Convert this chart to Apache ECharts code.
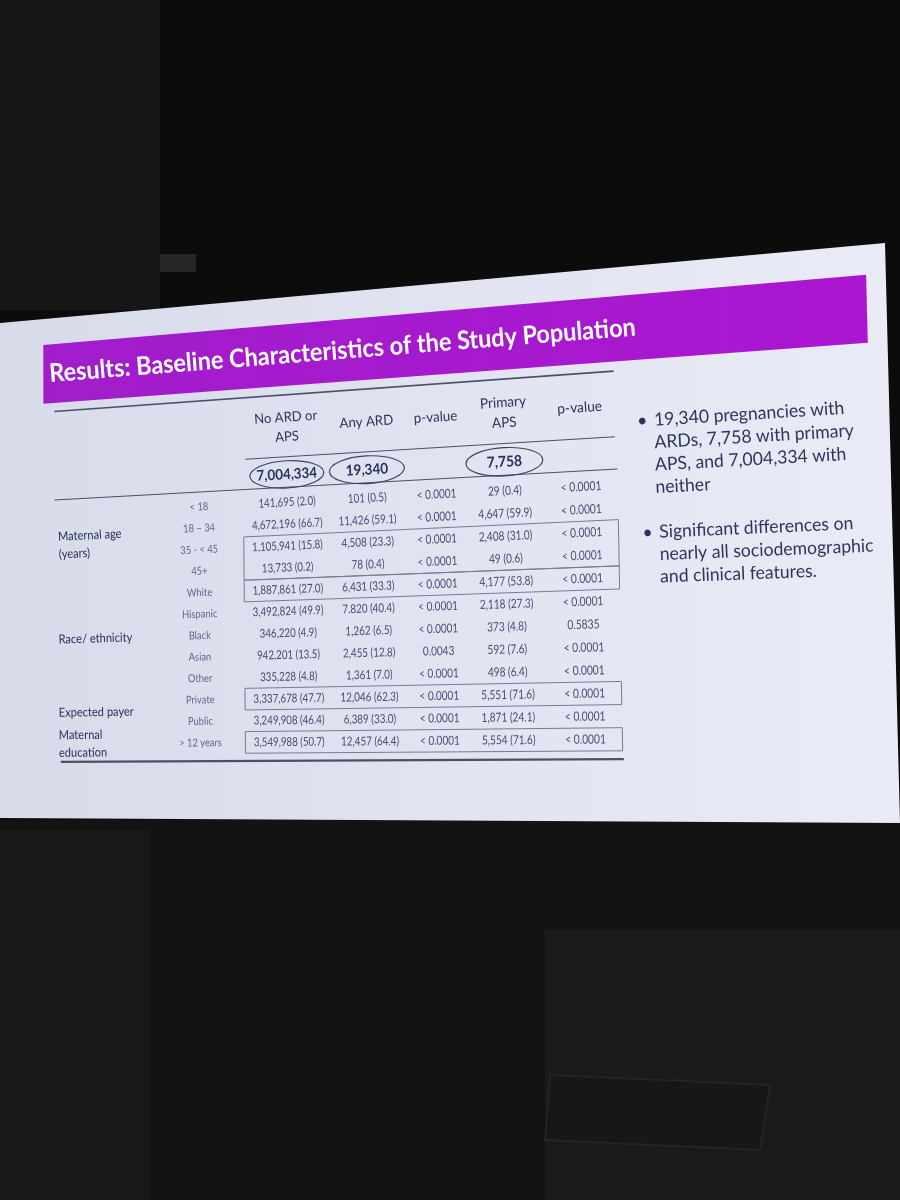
<!DOCTYPE html>
<html>
<head>
<meta charset="utf-8">
<title>Results: Baseline Characteristics of the Study Population</title>
<script src="https://cdn.jsdelivr.net/npm/echarts@6/dist/echarts.min.js"></script>
<style>
  html, body { margin: 0; padding: 0; background: #0d0d0d; }
  #chart { width: 900px; height: 1200px; }
</style>
</head>
<body>
<div id="chart"></div>
<script>
// slide text
const title = 'Results: Baseline Characteristics of the Study Population';
const bullets = [
  ['19,340 pregnancies with', 'ARDs, 7,758 with primary', 'APS, and 7,004,334 with', 'neither'],
  ['Significant differences on', 'nearly all sociodemographic', 'and clinical features.']
];

// table
const colHeaders = ['No ARD or\nAPS', 'Any ARD', 'p-value', 'Primary\nAPS', 'p-value'];
const totals = ['7,004,334', '19,340', '', '7,758', ''];
const circledTotals = [0, 1, 3];
const groupNames = ['Maternal age\n(years)', 'Race/ ethnicity', 'Expected payer', 'Maternal\neducation'];
const groupStart = [0, 4, 9, 11];
const groupEnd = [3, 8, 10, 11];
const rowLabels = ['< 18', '18 – 34', '35 - < 45', '45+', 'White', 'Hispanic', 'Black', 'Asian', 'Other',
  'Private', 'Public', '> 12 years'];
const noArdOrAps = ['141,695 (2.0)', '4,672,196 (66.7)', '1,105,941 (15.8)', '13,733 (0.2)', '1,887,861 (27.0)',
  '3,492,824 (49.9)', '346,220 (4.9)', '942,201 (13.5)', '335,228 (4.8)', '3,337,678 (47.7)',
  '3,249,908 (46.4)', '3,549,988 (50.7)'];
const anyArd = ['101 (0.5)', '11,426 (59.1)', '4,508 (23.3)', '78 (0.4)', '6,431 (33.3)', '7.820 (40.4)',
  '1,262 (6.5)', '2,455 (12.8)', '1,361 (7.0)', '12,046 (62.3)', '6,389 (33.0)', '12,457 (64.4)'];
const pAnyArd = ['< 0.0001', '< 0.0001', '< 0.0001', '< 0.0001', '< 0.0001', '< 0.0001', '< 0.0001',
  '0.0043', '< 0.0001', '< 0.0001', '< 0.0001', '< 0.0001'];
const primaryAps = ['29 (0.4)', '4,647 (59.9)', '2,408 (31.0)', '49 (0.6)', '4,177 (53.8)', '2,118 (27.3)',
  '373 (4.8)', '592 (7.6)', '498 (6.4)', '5,551 (71.6)', '1,871 (24.1)', '5,554 (71.6)'];
const pPrimaryAps = ['< 0.0001', '< 0.0001', '< 0.0001', '< 0.0001', '< 0.0001', '< 0.0001', '0.5835',
  '< 0.0001', '< 0.0001', '< 0.0001', '< 0.0001', '< 0.0001'];
const boxedRows = [[2, 3], [4, 4], [9, 9], [11, 11]];

const valueCols = [noArdOrAps, anyArd, pAnyArd, primaryAps, pPrimaryAps];

// the slide is photographed at an angle: a flat FW x FH frame is mapped onto this quad
const TL = [0, 323], TR = [885, 243], BR = [900, 823], BL = [0, 818];
const FW = 900, FH = 560;
const ROW_H = 23.37, GRID_TOP = 208.1;
const colX = [59, 201, 290, 371, 441, 510, 587]; // group, row label, 5 data columns
const HEADER_ROW = -3.45, TOTAL_ROW = -1.28;

function warp(X, Y) {
  const u = X / FW, v = Y / FH;
  return [
    (1 - u) * (1 - v) * TL[0] + u * (1 - v) * TR[0] + u * v * BR[0] + (1 - u) * v * BL[0],
    (1 - u) * (1 - v) * TL[1] + u * (1 - v) * TR[1] + u * v * BR[1] + (1 - u) * v * BL[1]
  ];
}
function tilt(Y) {
  const v = Y / FH;
  const dx = (1 - v) * (TR[0] - TL[0]) + v * (BR[0] - BL[0]);
  const dy = (1 - v) * (TR[1] - TL[1]) + v * (BR[1] - BL[1]);
  return Math.atan2(-dy, dx);
}
function zoomAt(X) {
  const u = X / FW;
  return ((1 - u) * (BL[1] - TL[1]) + u * (BR[1] - TR[1])) / 537;
}

// Calibri-like look: Lato squeezed a little along the baseline
function warpedText(X, Y, text, st, align, zx) {
  const s = warp(X, Y);
  const k = zoomAt(zx === undefined ? X : zx);
  return {
    type: 'text', x: s[0], y: s[1], rotation: tilt(Y), scaleX: st.squeeze || 1,
    style: {
      text: text, fill: st.color, fontFamily: st.family || 'Lato', fontSize: st.size * k,
      fontWeight: st.weight || 'normal', lineHeight: (st.lineHeight || st.size * 1.2) * k,
      align: align, verticalAlign: 'middle', textAlign: align, textVerticalAlign: 'middle'
    }
  };
}
function warpedPoly(pts) {
  return pts.map(p => warp(p[0], p[1]));
}

const titleStyle = { color: '#ffffff', size: 26, weight: 'bold', squeeze: 0.92 };
const bulletStyle = { color: '#2c3658', size: 17.5, lineHeight: 22, squeeze: 0.97 };
const headerStyle = { color: '#2b3555', size: 14, lineHeight: 20, squeeze: 0.96 };
const totalStyle = { color: '#29335a', size: 15, weight: 'bold', squeeze: 0.92 };
const groupStyle = { color: '#27315a', size: 13.5, lineHeight: 19, squeeze: 0.88 };
const labelStyle = { color: '#5d6789', size: 11.5, squeeze: 0.85 };
const valueStyle = { color: '#434d70', size: 12.5, squeeze: 0.8 };
const ruleColor = '#4a5166', boxColor = '#767c92';

// backdrop: dark hall, the projected slide and its purple title bar
const graphics = [
  { type: 'rect', shape: { x: 0, y: 0, width: 900, height: 1200 }, style: { fill: '#0c0c0c' } },
  { type: 'rect', shape: { x: 0, y: 0, width: 160, height: 310 }, style: { fill: '#161616' } },
  { type: 'rect', shape: { x: 160, y: 254, width: 36, height: 18 }, style: { fill: '#262626' } },
  { type: 'rect', shape: { x: 0, y: 820, width: 900, height: 380 }, style: { fill: '#131313' } },
  { type: 'rect', shape: { x: 0, y: 830, width: 150, height: 370 }, style: { fill: '#181818' } },
  { type: 'rect', shape: { x: 545, y: 930, width: 355, height: 270 }, style: { fill: '#1a1a1a' } },
  { type: 'polygon', shape: { points: [[550, 1075], [770, 1085], [760, 1150], [545, 1140]] },
    style: { fill: '#171717', stroke: '#242424', lineWidth: 2 } },
  { type: 'polygon', shape: { points: warpedPoly([[-20, 0], [FW, 0], [FW, FH], [-20, FH]]) },
    style: { fill: new echarts.graphic.LinearGradient(0, 0, 1, 0, [
      { offset: 0, color: '#d7dae9' }, { offset: 0.55, color: '#e2e4f2' }, { offset: 1, color: '#e9ebf6' }]) } },
  { type: 'polygon', shape: { points: warpedPoly([[44, 29], [880, 29], [880, 95], [44, 95]]) },
    style: { fill: new echarts.graphic.LinearGradient(0, 0, 1, 0, [
      { offset: 0, color: '#a11dcb' }, { offset: 1, color: '#ab16d1' }]) } },
  warpedText(50, 62, title, titleStyle, 'left', 340)
];
const bulletTop = [156.5, 269];
const bulletX = [662, 665];
bullets.forEach((lines, b) => {
  graphics.push(warpedText(bulletX[b] - 17, bulletTop[b], '•', bulletStyle, 'left'));
  lines.forEach((line, i) => {
    graphics.push(warpedText(bulletX[b], bulletTop[b] + i * 22.5, line, bulletStyle, 'left'));
  });
});

// table rules: [x0, x1, row, width]
const rules = [[55, 622, -4.93, 1.6], [248, 622, -2.09, 1.1], [55, 624, -0.69, 1.1], [61, 625, 11.86, 2.2]];

const cellData = [];
rowLabels.forEach((_, r) => { for (let c = 1; c <= 6; c++) cellData.push([c, r]); });

const chart = echarts.init(document.getElementById('chart'));
chart.setOption({
  animation: false,
  graphic: { elements: graphics },
  grid: { left: 0, top: GRID_TOP, width: FW, height: ROW_H * rowLabels.length },
  xAxis: { type: 'value', min: 0, max: FW, show: false },
  yAxis: { type: 'value', min: -0.5, max: rowLabels.length - 0.5, inverse: true, show: false },
  series: [
    {
      type: 'custom', name: 'rules', z: 10, silent: true,
      data: rules,
      renderItem: function (params, api) {
        const a = api.coord([api.value(0), api.value(2)]);
        const b = api.coord([api.value(1), api.value(2)]);
        const p = warp(a[0], a[1]), q = warp(b[0], b[1]);
        return { type: 'line', shape: { x1: p[0], y1: p[1], x2: q[0], y2: q[1] },
          style: { stroke: ruleColor, lineWidth: api.value(3) } };
      }
    },
    {
      type: 'custom', name: 'boxes', z: 10, silent: true,
      data: boxedRows,
      renderItem: function (params, api) {
        const r0 = api.value(0) - 0.5, r1 = api.value(1) + 0.5;
        const pts = [[246, r0], [624, r0], [624, r1], [246, r1]].map(p => {
          const c = api.coord(p);
          return warp(c[0], c[1]);
        });
        return { type: 'polygon', shape: { points: pts },
          style: { fill: 'none', stroke: boxColor, lineWidth: 1 } };
      }
    },
    {
      type: 'custom', name: 'header', z: 11, silent: true,
      data: colHeaders.map((_, c) => [c, HEADER_ROW]),
      renderItem: function (params, api) {
        const c = api.value(0);
        const p = api.coord([colX[c + 2], api.value(1)]);
        return warpedText(p[0], p[1], colHeaders[c], headerStyle, 'center');
      }
    },
    {
      type: 'custom', name: 'totals', z: 11, silent: true,
      data: totals.map((_, c) => [c, TOTAL_ROW]),
      renderItem: function (params, api) {
        const c = api.value(0);
        const p = api.coord([colX[c + 2], api.value(1)]);
        const children = [warpedText(p[0], p[1], totals[c], totalStyle, 'center')];
        if (circledTotals.indexOf(c) >= 0) {
          const s = warp(p[0], p[1]);
          children.push({ type: 'ellipse', x: s[0], y: s[1], rotation: tilt(p[1]),
            shape: { cx: 0, cy: 0, rx: 38 * zoomAt(p[0]), ry: 14 * zoomAt(p[0]) },
            style: { fill: 'none', stroke: '#3b4562', lineWidth: 1.2 } });
        }
        return { type: 'group', children: children };
      }
    },
    {
      type: 'custom', name: 'groups', z: 11, silent: true,
      data: groupNames.map((_, g) => [g, (groupStart[g] + groupEnd[g]) / 2]),
      renderItem: function (params, api) {
        const g = api.value(0);
        const p = api.coord([colX[0], api.value(1)]);
        return warpedText(p[0], p[1], groupNames[g], groupStyle, 'left');
      }
    },
    {
      type: 'custom', name: 'cells', z: 11, silent: true,
      data: cellData,
      renderItem: function (params, api) {
        const c = api.value(0), r = api.value(1);
        const p = api.coord([colX[c], r]);
        const text = c === 1 ? rowLabels[r] : valueCols[c - 2][r];
        return warpedText(p[0], p[1], text, c === 1 ? labelStyle : valueStyle, 'center');
      }
    }
  ]
});
</script>
</body>
</html>
